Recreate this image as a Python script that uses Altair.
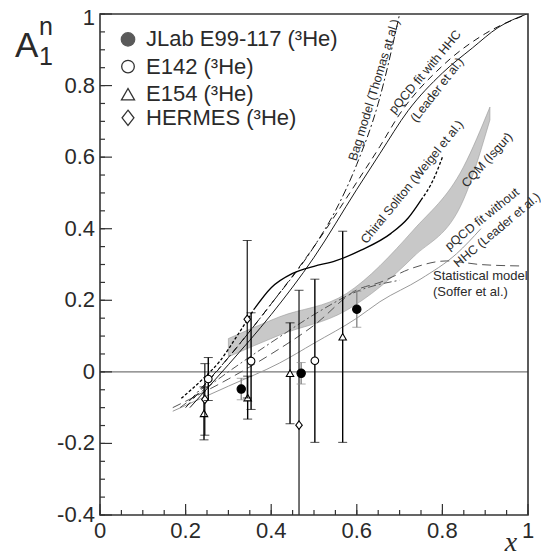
import altair as alt
import pandas as pd

# ---------------- data ----------------
# E99-117 (JLab)
jlab_x = [0.33, 0.47, 0.60]
jlab_y = [-0.048, -0.004, 0.175]
jlab_e = [0.030, 0.030, 0.050]
# E142
e142_x = [0.253, 0.353, 0.502]
e142_y = [-0.020, 0.030, 0.031]
e142_e = [0.060, 0.135, 0.228]
# E154
e154_x = [0.243, 0.345, 0.444, 0.567]
e154_y = [-0.116, -0.072, -0.004, 0.098]
e154_e = [0.074, 0.060, 0.141, 0.295]
# HERMES
herm_x = [0.245, 0.344, 0.465]
herm_y = [-0.077, 0.147, -0.149]
herm_e = [0.100, 0.220, 0.377]

# curves
chiral_x = [0.19, 0.24, 0.28, 0.32, 0.36, 0.40, 0.45, 0.50, 0.55, 0.61, 0.68, 0.72, 0.75, 0.78, 0.80]
chiral_y = [-0.074, -0.02, 0.03, 0.10, 0.175, 0.235, 0.275, 0.295, 0.31, 0.34, 0.387, 0.43, 0.48, 0.54, 0.60]
bag_x = [0.21, 0.30, 0.40, 0.50, 0.55, 0.60, 0.65, 0.70]
bag_y = [-0.08, 0.04, 0.19, 0.35, 0.45, 0.58, 0.75, 1.0]
hhc_x = [0.20, 0.30, 0.40, 0.50, 0.60, 0.654, 0.70, 0.80, 0.90, 1.0]
hhc_y = [-0.10, 0.04, 0.19, 0.35, 0.53, 0.63, 0.72, 0.855, 0.945, 1.0]
sol_x = [0.21, 0.30, 0.40, 0.50, 0.60, 0.654, 0.72, 0.80, 0.87, 0.93, 0.997]
sol_y = [-0.10, 0.02, 0.16, 0.32, 0.51, 0.61, 0.73, 0.835, 0.905, 0.962, 1.0]
nohhc_x = [0.17, 0.30, 0.42, 0.50, 0.60, 0.654, 0.75, 0.833, 0.89]
nohhc_y = [-0.11, -0.04, 0.025, 0.08, 0.15, 0.196, 0.26, 0.33, 0.40]
stat_x = [0.17, 0.30, 0.40, 0.50, 0.60, 0.654, 0.73, 0.81, 0.888, 0.98]
stat_y = [-0.10, -0.02, 0.05, 0.13, 0.229, 0.25, 0.29, 0.31, 0.30, 0.296]
dd_x = [0.187, 0.30, 0.42, 0.50, 0.607, 0.70]
dd_y = [-0.10, 0.00, 0.098, 0.16, 0.228, 0.256]
band_x = [0.30, 0.42, 0.576, 0.732, 0.849, 0.911]
band_hi = [0.093, 0.154, 0.219, 0.396, 0.572, 0.74]
band_lo = [0.042, 0.103, 0.172, 0.321, 0.48, 0.704]

legend_labels = ["JLab E99-117 (³He)", "E142 (³He)", "E154 (³He)", "HERMES (³He)"]
legend_y = [0.929, 0.853, 0.776, 0.710]

x_major = [0, 0.2, 0.4, 0.6, 0.8, 1]
x_labels = ["0", "0.2", "0.4", "0.6", "0.8", "1"]
y_major = [-0.4, -0.2, 0, 0.2, 0.4, 0.6, 0.8, 1]
y_labels = ["-0.4", "-0.2", "0", "0.2", "0.4", "0.6", "0.8", "1"]
x_minor = [round(i * 0.05, 3) for i in range(21)]
y_minor = [round(-0.4 + i * 0.05, 3) for i in range(29)]

W, H = 428, 501
FONT = "Liberation Sans"
INK = "#2a2a2a"
DIAMOND = "M0,-1L0.78,0L0,1L-0.78,0Z"
xs = alt.Scale(domain=[0, 1], nice=False, zero=False)
ys = alt.Scale(domain=[-0.4, 1], nice=False, zero=False)
X = lambda f: alt.X(f, type="quantitative", scale=xs, axis=None)
Y = lambda f: alt.Y(f, type="quantitative", scale=ys, axis=None)


def curve(xv, yv, color="black", dash=None, width=1.0):
    df = pd.DataFrame({"x": xv, "y": yv})
    kw = dict(color=color, strokeWidth=width, clip=True, interpolate="monotone")
    if dash:
        kw["strokeDash"] = dash
    return alt.Chart(df).mark_line(**kw).encode(x=X("x"), y=Y("y"), order="x:Q")


layers = []
# band
band_df = pd.DataFrame({"x": band_x, "lo": band_lo, "hi": band_hi})
layers.append(alt.Chart(band_df).mark_area(color="#c8c8c8", stroke="#999999", strokeWidth=0.6,
                                             interpolate="monotone").encode(
    x=X("x"), y=Y("lo"), y2="hi"))
# zero line
layers.append(alt.Chart(pd.DataFrame({"y": [0]})).mark_rule(color="#777777", strokeWidth=1.3).encode(
    y=Y("y"), x=alt.value(0), x2=alt.value(W)))

layers.append(curve(nohhc_x, nohhc_y, color="#9a9a9a", width=1.0))
layers.append(curve(stat_x, stat_y, color="#555555", dash=[9, 5], width=1.0))
layers.append(curve(dd_x, dd_y, color="#555555", dash=[8, 3, 2, 3], width=1.0))
layers.append(curve(sol_x, sol_y, color="black", width=0.9))
layers.append(curve(hhc_x, hhc_y, color="black", dash=[7, 5], width=0.9))
layers.append(curve(bag_x, bag_y, color="black", dash=[8, 3, 2, 3], width=0.9))
n1 = 5
layers.append(curve(chiral_x[:n1], chiral_y[:n1], color="black", dash=[3, 2], width=1.3))
layers.append(curve(chiral_x[n1 - 1:13], chiral_y[n1 - 1:13], color="black", width=1.3))
layers.append(curve(chiral_x[12:], chiral_y[12:], color="black", dash=[3, 2], width=1.3))


def points(xv, yv, ev, shape, filled, size, ecolor="black", ew=1.4):
    df = pd.DataFrame({"x": xv, "y": yv, "lo": [a - b for a, b in zip(yv, ev)],
                       "hi": [a + b for a, b in zip(yv, ev)]})
    bars = alt.Chart(df).mark_rule(color=ecolor, strokeWidth=ew, clip=True).encode(
        x=X("x"), y=Y("lo"), y2="hi")
    caps_hi = alt.Chart(df).mark_tick(color=ecolor, thickness=1, size=9, orient="horizontal", clip=True).encode(
        x=X("x"), y=Y("hi"))
    caps_lo = alt.Chart(df).mark_tick(color=ecolor, thickness=1, size=9, orient="horizontal", clip=True).encode(
        x=X("x"), y=Y("lo"))
    pts = alt.Chart(df).mark_point(shape=shape, filled=True, size=size,
                                   fill="black" if filled else "white",
                                   stroke="black", strokeWidth=1.1, opacity=1).encode(x=X("x"), y=Y("y"))
    return [bars, caps_hi, caps_lo, pts]


layers += points(e154_x, e154_y, e154_e, "triangle-up", False, 55)
layers += points(herm_x, herm_y, herm_e, DIAMOND, False, 70, ew=1.1)
layers += points(e142_x, e142_y, e142_e, "circle", False, 58)
layers += points(jlab_x, jlab_y, jlab_e, "circle", True, 70, ecolor="#888888")

# legend inside plot
leg_shapes = ["circle", "circle", "triangle-up", DIAMOND]
leg_sizes = [180, 160, 170, 230]
leg_fills = ["#5a5a5a", "white", "white", "white"]
leg_df = pd.DataFrame({"label": legend_labels, "y": legend_y})
for i in range(4):
    d = leg_df.iloc[[i]]
    layers.append(alt.Chart(d).mark_point(shape=leg_shapes[i], filled=True, size=leg_sizes[i],
                                          fill=leg_fills[i], stroke="#333333" if i else "#5a5a5a",
                                          strokeWidth=1.3, opacity=1).encode(
        x=alt.value(28), y=Y("y")))
layers.append(alt.Chart(leg_df).mark_text(align="left", baseline="middle", font=FONT, fontSize=22,
                                          color=INK).encode(
    x=alt.value(46), y=Y("y"), text="label:N"))

# frame ticks (inside)
xmaj = pd.DataFrame({"v": x_major, "t": x_labels})
ymaj = pd.DataFrame({"v": y_major[:-1], "t": y_labels[:-1]})
ytop = pd.DataFrame({"v": y_major[-1:], "t": y_labels[-1:]})
layers.append(alt.Chart(pd.DataFrame({"v": x_minor})).mark_rule(color="#333333", strokeWidth=1.2).encode(
    x=X("v"), y=alt.value(H), y2=alt.value(H - 5)))
layers.append(alt.Chart(xmaj).mark_rule(color="#333333", strokeWidth=1.2).encode(
    x=X("v"), y=alt.value(H), y2=alt.value(H - 11)))
layers.append(alt.Chart(pd.DataFrame({"v": y_minor})).mark_rule(color="#333333", strokeWidth=1.2).encode(
    y=Y("v"), x=alt.value(0), x2=alt.value(5)))
layers.append(alt.Chart(pd.DataFrame({"v": y_major})).mark_rule(color="#333333", strokeWidth=1.2).encode(
    y=Y("v"), x=alt.value(0), x2=alt.value(12)))
layers.append(alt.Chart(xmaj).mark_text(baseline="top", align="center", font=FONT, fontSize=22,
                                        color=INK).encode(
    x=X("v"), y=alt.value(H + 6), text="t:N"))
layers.append(alt.Chart(ymaj).mark_text(baseline="middle", align="right", font=FONT, fontSize=22,
                                        color=INK).encode(
    y=Y("v"), x=alt.value(-5), text="t:N"))
layers.append(alt.Chart(ytop).mark_text(baseline="middle", align="right", font=FONT, fontSize=22,
                                        color=INK, dy=4).encode(
    y=Y("v"), x=alt.value(-5), text="t:N"))


def label(t, px, py, size=12.5, angle=0, align="center", font=FONT, style="normal", base="middle"):
    return alt.Chart(pd.DataFrame({"t": [t]})).mark_text(
        font=font, fontSize=size, fontStyle=style, color=INK, align=align, baseline=base,
        angle=(360 + angle) % 360).encode(x=alt.value(px), y=alt.value(py), text="t:N")


# axis titles
layers.append(label("x", W - 17, H + 28, size=28, font="Liberation Serif", style="italic"))
layers.append(label("A", -85, 43, size=35, align="left", base="alphabetic"))
layers.append(label("n", -61, 21, size=25, align="left", base="alphabetic"))
layers.append(label("1", -61, 51, size=25, align="left", base="alphabetic"))

# curve annotations (pixel positions, rotated)
ann = [
    ("Bag model (Thomas at al.)", 274, 76, -73),
    ("pQCD fit with HHC", 325, 58, -50),
    ("(Leader et al.)", 337, 76, -52),
    ("Chiral Soliton (Weigel et al.)", 312, 168, -51),
    ("CQM (Isgur)", 387, 146, -48),
    ("pQCD fit without", 382, 205, -39),
    ("HHC (Leader et al.)", 397, 216, -40),
]
for t, px, py, ang in ann:
    layers.append(label(t, px, py, angle=ang))
layers.append(label("Statistical model", 333, 262, size=13, align="left"))
layers.append(label("(Soffer et al.)", 333, 278, size=13, align="left"))

frame = alt.Chart(pd.DataFrame({"a": [0]})).mark_rect(fill=None, stroke="#333333", strokeWidth=1.6).encode(
    x=alt.value(0), x2=alt.value(W), y=alt.value(0), y2=alt.value(H))
layers.append(frame)

chart = alt.layer(*layers).properties(
    width=W, height=H, autosize=alt.AutoSizeParams(type="none"),
    padding={"left": 92, "top": 6, "right": 13, "bottom": 42},
).configure_view(stroke=None)

chart.save("out.html", embed_options={"renderer": "svg", "actions": False})
